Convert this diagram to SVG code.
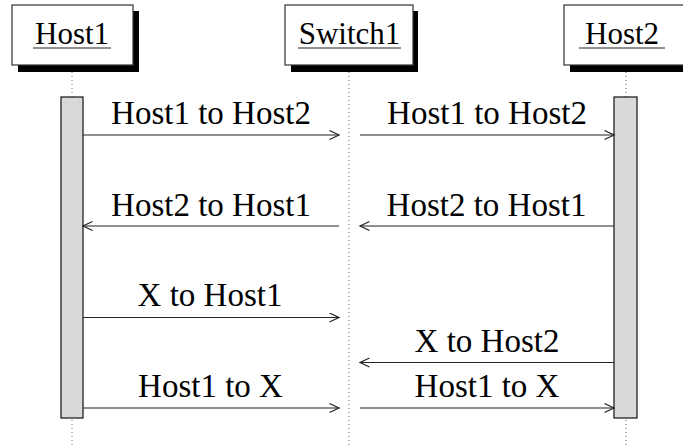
<svg xmlns="http://www.w3.org/2000/svg" width="683" height="447" viewBox="0 0 683 447">
  <defs>
    <marker id="arrow" markerWidth="12" markerHeight="12" refX="10" refY="5" orient="auto" markerUnits="userSpaceOnUse">
      <path d="M0.5,0.5 L10,5 L0.5,9.5" fill="none" stroke="#222" stroke-width="1.2"/>
    </marker>
  </defs>
  <rect width="683" height="447" fill="#fff"/>

  <!-- lifelines -->
  <g id="lifelines" stroke="#666" stroke-width="1" stroke-dasharray="1 3" fill="none">
    <line x1="72" y1="72" x2="72" y2="447"/>
    <line x1="349" y1="72" x2="349" y2="447"/>
    <line x1="626" y1="72" x2="626" y2="447"/>
  </g>

  <!-- participants: shadowed box, underlined name -->
  <g id="host1">
    <rect x="18" y="11" width="121" height="61" fill="#000"/>
    <rect x="12" y="5" width="121" height="60" fill="#fff" stroke="#333" stroke-width="1.2"/>
    <text x="35" y="44" font-family="Liberation Serif" font-size="31">Host1</text>
    <line x1="33" y1="48" x2="111" y2="48" stroke="#222" stroke-width="1.2"/>
  </g>
  <g id="switch1">
    <rect x="291" y="11" width="127" height="61" fill="#000"/>
    <rect x="285" y="5" width="128" height="60" fill="#fff" stroke="#333" stroke-width="1.2"/>
    <text x="298.7" y="44" font-family="Liberation Serif" font-size="31">Switch1</text>
    <line x1="298" y1="48" x2="401" y2="48" stroke="#222" stroke-width="1.2"/>
  </g>
  <g id="host2">
    <rect x="570" y="11" width="120" height="61" fill="#000"/>
    <rect x="564" y="5" width="121" height="60" fill="#fff" stroke="#333" stroke-width="1.2"/>
    <text x="585" y="44" font-family="Liberation Serif" font-size="31">Host2</text>
    <line x1="579" y1="48" x2="665" y2="48" stroke="#222" stroke-width="1.2"/>
  </g>

  <!-- activation bars -->
  <g id="host1-activation">
    <rect x="61" y="97" width="22" height="321" fill="#d9d9d9" stroke="#111" stroke-width="1.2"/>
  </g>
  <g id="host2-activation">
    <rect x="614" y="97" width="23" height="321" fill="#d9d9d9" stroke="#111" stroke-width="1.2"/>
  </g>

  <!-- messages -->
  <g id="connectors" stroke="#222" stroke-width="1.2" fill="none" marker-end="url(#arrow)">
    <line x1="83" y1="135" x2="339" y2="135"/>
    <line x1="360" y1="135" x2="614" y2="135"/>
    <line x1="339" y1="226" x2="83" y2="226"/>
    <line x1="614" y1="226" x2="360" y2="226"/>
    <line x1="83" y1="317.5" x2="339" y2="317.5"/>
    <line x1="614" y1="362.5" x2="360" y2="362.5"/>
    <line x1="83" y1="408" x2="339" y2="408"/>
    <line x1="360" y1="408" x2="614" y2="408"/>
  </g>

  <!-- message labels -->
  <g id="labels">
    <text x="111.1" y="124" font-family="Liberation Serif" font-size="33">Host1 to Host2</text>
    <text x="387.1" y="124" font-family="Liberation Serif" font-size="33">Host1 to Host2</text>
    <text x="111.1" y="216" font-family="Liberation Serif" font-size="33">Host2 to Host1</text>
    <text x="386.6" y="216" font-family="Liberation Serif" font-size="33">Host2 to Host1</text>
    <text x="137.6" y="306" font-family="Liberation Serif" font-size="33">X to Host1</text>
    <text x="414.6" y="351.5" font-family="Liberation Serif" font-size="33">X to Host2</text>
    <text x="138.1" y="396.5" font-family="Liberation Serif" font-size="33">Host1 to X</text>
    <text x="414.6" y="396.5" font-family="Liberation Serif" font-size="33">Host1 to X</text>
  </g>
</svg>
